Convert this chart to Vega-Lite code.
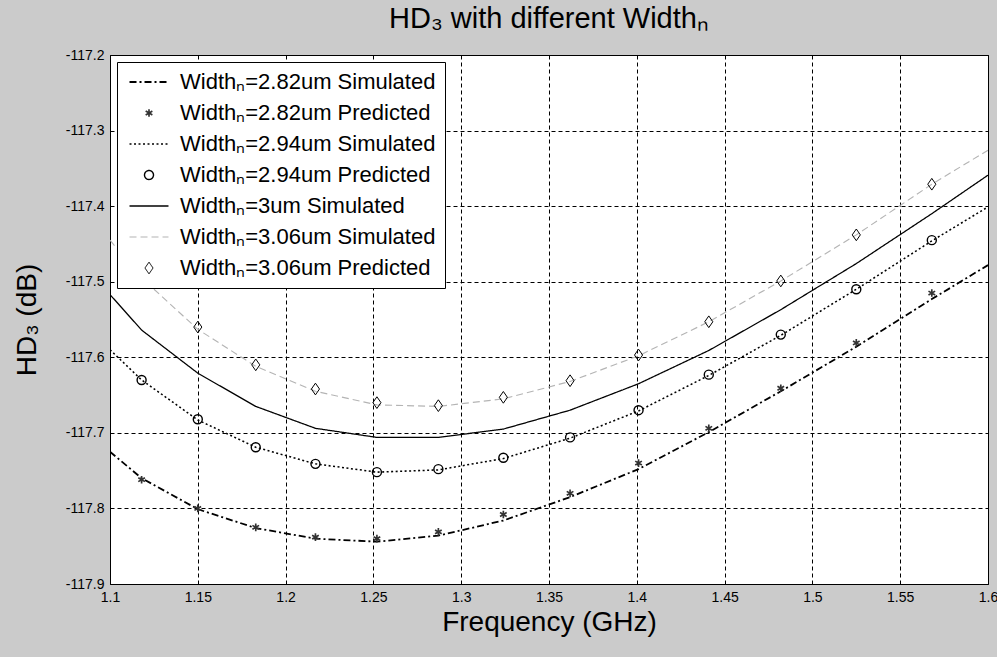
{
  "$schema": "https://vega.github.io/schema/vega-lite/v6.json",
  "width": 878,
  "height": 529,
  "autosize": {"type": "none"},
  "padding": {"left": 110, "top": 55, "right": 9, "bottom": 73},
  "background": "#cbcbcb",
  "config": {
    "font": "Liberation Sans",
    "view": {"fill": "white", "stroke": "black", "strokeWidth": 1},
    "axis": {
      "domain": false,
      "ticks": false,
      "grid": true,
      "gridColor": "black",
      "gridDash": [4, 3],
      "gridOpacity": 1,
      "gridWidth": 1,
      "labelFont": "Liberation Sans",
      "labelFontSize": 14,
      "labelColor": "black",
      "labelPadding": 6,
      "labelFlush": false,
      "labelOverlap": false,
      "titleFont": "Liberation Sans",
      "titleFontSize": 28,
      "titleFontWeight": "normal",
      "titleColor": "black"
    },
    "legend": {
      "orient": "top-left",
      "offset": 7,
      "padding": 9,
      "fillColor": "white",
      "strokeColor": "black",
      "labelFont": "Liberation Sans",
      "labelFontSize": 22,
      "labelColor": "black",
      "labelLimit": 500,
      "symbolSize": 81,
      "symbolOpacity": 1,
      "symbolOffset": 12,
      "labelOffset": 20,
      "rowPadding": 9
    }
  },
  "title": {
    "text": "HD₃ with different Widthₙ",
    "font": "Liberation Sans",
    "fontSize": 29,
    "fontWeight": "normal",
    "color": "black",
    "anchor": "middle",
    "frame": "group",
    "offset": 21,
    "baseline": "bottom",
    "dy": 36
  },
  "datasets": {
    "sim": [
      {"series": "Widthₙ=2.82um Simulated", "f": 1.1, "v": -117.725},
      {"series": "Widthₙ=2.82um Simulated", "f": 1.118, "v": -117.76},
      {"series": "Widthₙ=2.82um Simulated", "f": 1.15, "v": -117.801},
      {"series": "Widthₙ=2.82um Simulated", "f": 1.183, "v": -117.826},
      {"series": "Widthₙ=2.82um Simulated", "f": 1.217, "v": -117.84},
      {"series": "Widthₙ=2.82um Simulated", "f": 1.252, "v": -117.844},
      {"series": "Widthₙ=2.82um Simulated", "f": 1.287, "v": -117.836},
      {"series": "Widthₙ=2.82um Simulated", "f": 1.324, "v": -117.816},
      {"series": "Widthₙ=2.82um Simulated", "f": 1.362, "v": -117.785},
      {"series": "Widthₙ=2.82um Simulated", "f": 1.401, "v": -117.748},
      {"series": "Widthₙ=2.82um Simulated", "f": 1.441, "v": -117.699},
      {"series": "Widthₙ=2.82um Simulated", "f": 1.482, "v": -117.645},
      {"series": "Widthₙ=2.82um Simulated", "f": 1.525, "v": -117.586},
      {"series": "Widthₙ=2.82um Simulated", "f": 1.568, "v": -117.523},
      {"series": "Widthₙ=2.82um Simulated", "f": 1.6, "v": -117.478},
      {"series": "Widthₙ=2.94um Simulated", "f": 1.1, "v": -117.59},
      {"series": "Widthₙ=2.94um Simulated", "f": 1.118, "v": -117.63},
      {"series": "Widthₙ=2.94um Simulated", "f": 1.15, "v": -117.683},
      {"series": "Widthₙ=2.94um Simulated", "f": 1.183, "v": -117.719},
      {"series": "Widthₙ=2.94um Simulated", "f": 1.217, "v": -117.741},
      {"series": "Widthₙ=2.94um Simulated", "f": 1.252, "v": -117.752},
      {"series": "Widthₙ=2.94um Simulated", "f": 1.287, "v": -117.749},
      {"series": "Widthₙ=2.94um Simulated", "f": 1.324, "v": -117.734},
      {"series": "Widthₙ=2.94um Simulated", "f": 1.362, "v": -117.707},
      {"series": "Widthₙ=2.94um Simulated", "f": 1.401, "v": -117.671},
      {"series": "Widthₙ=2.94um Simulated", "f": 1.441, "v": -117.624},
      {"series": "Widthₙ=2.94um Simulated", "f": 1.482, "v": -117.571},
      {"series": "Widthₙ=2.94um Simulated", "f": 1.525, "v": -117.51},
      {"series": "Widthₙ=2.94um Simulated", "f": 1.568, "v": -117.446},
      {"series": "Widthₙ=2.94um Simulated", "f": 1.6, "v": -117.401},
      {"series": "Widthₙ=3um Simulated", "f": 1.1, "v": -117.517},
      {"series": "Widthₙ=3um Simulated", "f": 1.118, "v": -117.564},
      {"series": "Widthₙ=3um Simulated", "f": 1.15, "v": -117.621},
      {"series": "Widthₙ=3um Simulated", "f": 1.183, "v": -117.665},
      {"series": "Widthₙ=3um Simulated", "f": 1.217, "v": -117.694},
      {"series": "Widthₙ=3um Simulated", "f": 1.252, "v": -117.706},
      {"series": "Widthₙ=3um Simulated", "f": 1.287, "v": -117.706},
      {"series": "Widthₙ=3um Simulated", "f": 1.324, "v": -117.695},
      {"series": "Widthₙ=3um Simulated", "f": 1.362, "v": -117.67},
      {"series": "Widthₙ=3um Simulated", "f": 1.401, "v": -117.635},
      {"series": "Widthₙ=3um Simulated", "f": 1.441, "v": -117.591},
      {"series": "Widthₙ=3um Simulated", "f": 1.482, "v": -117.537},
      {"series": "Widthₙ=3um Simulated", "f": 1.525, "v": -117.476},
      {"series": "Widthₙ=3um Simulated", "f": 1.568, "v": -117.41},
      {"series": "Widthₙ=3um Simulated", "f": 1.6, "v": -117.359},
      {"series": "Widthₙ=3.06um Simulated", "f": 1.1, "v": -117.445},
      {"series": "Widthₙ=3.06um Simulated", "f": 1.118, "v": -117.495},
      {"series": "Widthₙ=3.06um Simulated", "f": 1.15, "v": -117.563},
      {"series": "Widthₙ=3.06um Simulated", "f": 1.183, "v": -117.612},
      {"series": "Widthₙ=3.06um Simulated", "f": 1.217, "v": -117.645},
      {"series": "Widthₙ=3.06um Simulated", "f": 1.252, "v": -117.663},
      {"series": "Widthₙ=3.06um Simulated", "f": 1.287, "v": -117.665},
      {"series": "Widthₙ=3.06um Simulated", "f": 1.324, "v": -117.655},
      {"series": "Widthₙ=3.06um Simulated", "f": 1.362, "v": -117.632},
      {"series": "Widthₙ=3.06um Simulated", "f": 1.401, "v": -117.598},
      {"series": "Widthₙ=3.06um Simulated", "f": 1.441, "v": -117.553},
      {"series": "Widthₙ=3.06um Simulated", "f": 1.482, "v": -117.499},
      {"series": "Widthₙ=3.06um Simulated", "f": 1.525, "v": -117.438},
      {"series": "Widthₙ=3.06um Simulated", "f": 1.568, "v": -117.371},
      {"series": "Widthₙ=3.06um Simulated", "f": 1.6, "v": -117.326}
    ],
    "pred": [
      {"series": "Widthₙ=2.82um Predicted", "f": 1.118, "v": -117.762},
      {"series": "Widthₙ=2.82um Predicted", "f": 1.15, "v": -117.8},
      {"series": "Widthₙ=2.82um Predicted", "f": 1.183, "v": -117.825},
      {"series": "Widthₙ=2.82um Predicted", "f": 1.217, "v": -117.838},
      {"series": "Widthₙ=2.82um Predicted", "f": 1.252, "v": -117.84},
      {"series": "Widthₙ=2.82um Predicted", "f": 1.287, "v": -117.831},
      {"series": "Widthₙ=2.82um Predicted", "f": 1.324, "v": -117.808},
      {"series": "Widthₙ=2.82um Predicted", "f": 1.362, "v": -117.78},
      {"series": "Widthₙ=2.82um Predicted", "f": 1.401, "v": -117.74},
      {"series": "Widthₙ=2.82um Predicted", "f": 1.441, "v": -117.694},
      {"series": "Widthₙ=2.82um Predicted", "f": 1.482, "v": -117.641},
      {"series": "Widthₙ=2.82um Predicted", "f": 1.525, "v": -117.581},
      {"series": "Widthₙ=2.82um Predicted", "f": 1.568, "v": -117.515},
      {"series": "Widthₙ=2.94um Predicted", "f": 1.118, "v": -117.63},
      {"series": "Widthₙ=2.94um Predicted", "f": 1.15, "v": -117.682},
      {"series": "Widthₙ=2.94um Predicted", "f": 1.183, "v": -117.719},
      {"series": "Widthₙ=2.94um Predicted", "f": 1.217, "v": -117.741},
      {"series": "Widthₙ=2.94um Predicted", "f": 1.252, "v": -117.752},
      {"series": "Widthₙ=2.94um Predicted", "f": 1.287, "v": -117.748},
      {"series": "Widthₙ=2.94um Predicted", "f": 1.324, "v": -117.733},
      {"series": "Widthₙ=2.94um Predicted", "f": 1.362, "v": -117.706},
      {"series": "Widthₙ=2.94um Predicted", "f": 1.401, "v": -117.67},
      {"series": "Widthₙ=2.94um Predicted", "f": 1.441, "v": -117.623},
      {"series": "Widthₙ=2.94um Predicted", "f": 1.482, "v": -117.57},
      {"series": "Widthₙ=2.94um Predicted", "f": 1.525, "v": -117.51},
      {"series": "Widthₙ=2.94um Predicted", "f": 1.568, "v": -117.445},
      {"series": "Widthₙ=3.06um Predicted", "f": 1.118, "v": -117.495},
      {"series": "Widthₙ=3.06um Predicted", "f": 1.15, "v": -117.56},
      {"series": "Widthₙ=3.06um Predicted", "f": 1.183, "v": -117.61},
      {"series": "Widthₙ=3.06um Predicted", "f": 1.217, "v": -117.642},
      {"series": "Widthₙ=3.06um Predicted", "f": 1.252, "v": -117.66},
      {"series": "Widthₙ=3.06um Predicted", "f": 1.287, "v": -117.664},
      {"series": "Widthₙ=3.06um Predicted", "f": 1.324, "v": -117.653},
      {"series": "Widthₙ=3.06um Predicted", "f": 1.362, "v": -117.631},
      {"series": "Widthₙ=3.06um Predicted", "f": 1.401, "v": -117.597},
      {"series": "Widthₙ=3.06um Predicted", "f": 1.441, "v": -117.553},
      {"series": "Widthₙ=3.06um Predicted", "f": 1.482, "v": -117.499},
      {"series": "Widthₙ=3.06um Predicted", "f": 1.525, "v": -117.438},
      {"series": "Widthₙ=3.06um Predicted", "f": 1.568, "v": -117.371}
    ]
  },
  "encoding": {
    "x": {
      "field": "f",
      "type": "quantitative",
      "title": "Frequency (GHz)",
      "scale": {"domain": [1.1, 1.6], "nice": false, "zero": false},
      "axis": {
        "values": [1.1, 1.15, 1.2, 1.25, 1.3, 1.35, 1.4, 1.45, 1.5, 1.55, 1.6],
        "format": "~g",
        "titlePadding": 4
      }
    },
    "y": {
      "field": "v",
      "type": "quantitative",
      "title": "HD₃ (dB)",
      "scale": {"domain": [-117.9, -117.2], "nice": false, "zero": false},
      "axis": {
        "values": [-117.9, -117.8, -117.7, -117.6, -117.5, -117.4, -117.3, -117.2],
        "labelExpr": "'-' + format(-datum.value, '.1f')",
        "titlePadding": 24
      }
    }
  },
  "layer": [
    {
      "data": {"name": "sim"},
      "mark": {"type": "line", "clip": true},
      "encoding": {
        "color": {
          "field": "series",
          "type": "nominal",
          "legend": {"title": null},
          "scale": {
            "domain": ["Widthₙ=2.82um Simulated", "Widthₙ=2.82um Predicted", "Widthₙ=2.94um Simulated", "Widthₙ=2.94um Predicted", "Widthₙ=3um Simulated", "Widthₙ=3.06um Simulated", "Widthₙ=3.06um Predicted"],
            "range": ["#000000", "#333333", "#000000", "#000000", "#000000", "#b4b4b4", "#000000"]
          }
        },
        "strokeDash": {
          "field": "series",
          "type": "nominal",
          "legend": {"title": null},
          "scale": {
            "domain": ["Widthₙ=2.82um Simulated", "Widthₙ=2.82um Predicted", "Widthₙ=2.94um Simulated", "Widthₙ=2.94um Predicted", "Widthₙ=3um Simulated", "Widthₙ=3.06um Simulated", "Widthₙ=3.06um Predicted"],
            "range": [[7, 3, 2, 3], [1, 0], [2, 2.5], [1, 0], [1, 0], [7, 4], [1, 0]]
          }
        },
        "strokeWidth": {
          "field": "series",
          "type": "nominal",
          "legend": {"title": null},
          "scale": {
            "domain": ["Widthₙ=2.82um Simulated", "Widthₙ=2.82um Predicted", "Widthₙ=2.94um Simulated", "Widthₙ=2.94um Predicted", "Widthₙ=3um Simulated", "Widthₙ=3.06um Simulated", "Widthₙ=3.06um Predicted"],
            "range": [1.8, 1, 1.5, 1, 2.2, 2.2, 1]
          }
        }
      }
    },
    {
      "data": {"name": "pred"},
      "mark": {"type": "point", "filled": false, "size": 81, "opacity": 1},
      "encoding": {
        "color": {"field": "series", "type": "nominal", "legend": {"title": null}},
        "strokeWidth": {"field": "series", "type": "nominal", "legend": {"title": null}},
        "shape": {
          "field": "series",
          "type": "nominal",
          "legend": {"title": null},
          "scale": {
            "domain": ["Widthₙ=2.82um Simulated", "Widthₙ=2.82um Predicted", "Widthₙ=2.94um Simulated", "Widthₙ=2.94um Predicted", "Widthₙ=3um Simulated", "Widthₙ=3.06um Simulated", "Widthₙ=3.06um Predicted"],
            "range": [
              "M-4.33,0L4.33,0",
              "M0,-0.85L0,0.85M-0.74,-0.43L0.74,0.43M-0.74,0.43L0.74,-0.43",
              "M-4.33,0L4.33,0",
              "circle",
              "M-4.33,0L4.33,0",
              "M-4.33,0L4.33,0",
              "M0,-1.3L0.9,0L0,1.3L-0.9,0Z"
            ]
          }
        }
      }
    }
  ]
}
